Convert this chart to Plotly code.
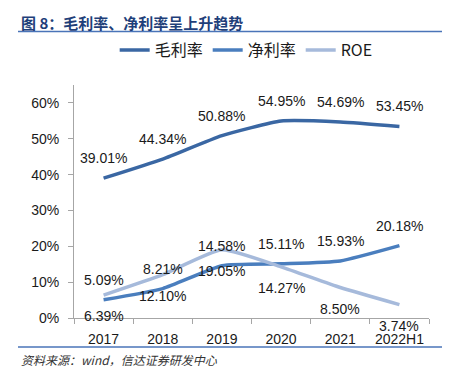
import plotly.graph_objects as go

categories = ["2017", "2018", "2019", "2020", "2021", "2022H1"]
gross_margin = [39.01, 44.34, 50.88, 54.95, 54.69, 53.45]
net_margin = [5.09, 8.21, 14.58, 15.11, 15.93, 20.18]
roe = [6.39, 12.10, 19.05, 14.27, 8.50, 3.74]
y_ticks = [0, 10, 20, 30, 40, 50, 60]

C_GROSS = "#3A67A3"
C_NET = "#4A7EBE"
C_ROE = "#A6BADB"
TXT = "#1a1a1a"
LBL_FONT = dict(family="Liberation Sans, Arial, sans-serif", size=14, color=TXT)

fig = go.Figure()
series = [("毛利率", gross_margin, C_GROSS, 20),
          ("净利率", net_margin, C_NET, 20),
          ("ROE", roe, C_ROE, -21)]
for name, vals, col, shift in series:
    fig.add_trace(go.Scatter(x=categories, y=vals, name=name, mode="lines",
                             line=dict(color=col, width=3.5, shape="spline", smoothing=0.5)))
    for i, v in enumerate(vals):
        fig.add_annotation(x=i, y=v, text=f"{v:.2f}%", showarrow=False,
                           yshift=shift, font=LBL_FONT)

W, H = 455, 378
L, R, T, B = 74, 26, 85, 60
pw, ph = W - L - R, H - T - B

def px(x):
    return (x - L) / pw

def py(y):
    return (H - B - y) / ph

fig.update_layout(
    width=W, height=H,
    margin=dict(l=L, r=R, t=T, b=B),
    paper_bgcolor="white", plot_bgcolor="white",
    showlegend=True,
    legend=dict(orientation="h", x=0.485, xanchor="center", y=py(50), yanchor="middle",
                font=dict(family="Noto Sans CJK SC, sans-serif", size=16, color=TXT),
                itemwidth=30, tracegroupgap=0, bgcolor="rgba(0,0,0,0)"),
    xaxis=dict(type="category", showgrid=False, showline=True, linecolor="#A6A6A6",
               ticks="outside", tickson="boundaries", ticklen=5, tickcolor="#A6A6A6",
               ticklabelstandoff=8,
               tickfont=dict(family="Liberation Sans, Arial, sans-serif", size=14, color=TXT),
               range=[-0.5, 5.5], fixedrange=True),
    yaxis=dict(range=[0, 65], tickvals=y_ticks, ticktext=[f"{t}%" for t in y_ticks],
               showgrid=False, showline=True, linecolor="#A6A6A6", zeroline=False,
               ticks="outside", ticklen=5, tickcolor="#A6A6A6", ticklabelstandoff=6,
               tickfont=dict(family="Liberation Sans, Arial, sans-serif", size=14, color=TXT)),
)

# title, rules and source
fig.add_annotation(xref="paper", yref="paper", x=px(19), y=py(22), xanchor="left", yanchor="middle",
                   text="<b>图 8：毛利率、净利率呈上升趋势</b>", showarrow=False,
                   font=dict(family="Noto Sans CJK SC, sans-serif", size=15, color="#1F3F7A"))
fig.add_shape(type="line", xref="paper", yref="paper", x0=px(18), x1=px(442), y0=py(31.5), y1=py(31.5),
              line=dict(color="#4A74B8", width=1.5))
fig.add_shape(type="line", xref="paper", yref="paper", x0=px(18), x1=px(442), y0=py(347), y1=py(347),
              line=dict(color="#4A74B8", width=1.5))
fig.add_annotation(xref="paper", yref="paper", x=px(19), y=py(359), xanchor="left", yanchor="middle",
                   text="<i>资料来源：wind，信达证券研发中心</i>", showarrow=False,
                   font=dict(family="Noto Sans CJK SC, sans-serif", size=12, color="#333333"))

fig.write_html("out.html", config={"displayModeBar": False},
               post_script="document.body.style.margin='0';")
